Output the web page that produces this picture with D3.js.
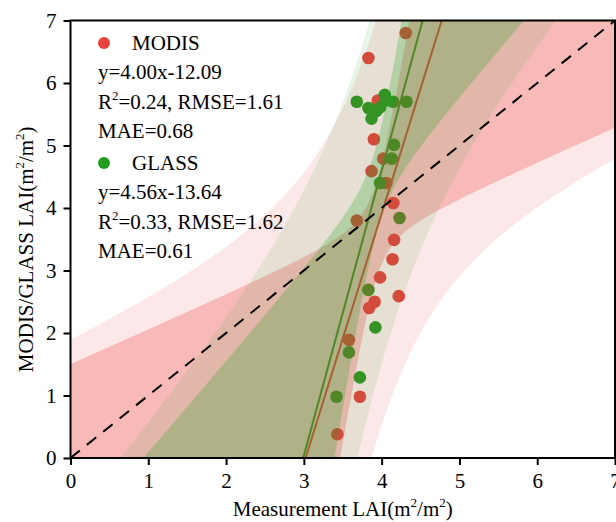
<!DOCTYPE html>
<html>
<head>
<meta charset="utf-8">
<script src="https://cdn.jsdelivr.net/npm/d3@7"></script>
<style>
  body { margin: 0; background: #fff; }
  text { font-family: "Liberation Serif", "Times New Roman", serif; fill: #000; }
</style>
</head>
<body>
<div id="chart"></div>
<script>
// scatter of measured LAI vs MODIS / GLASS LAI, with 95% confidence + prediction bands

const modisX = [4.31, 3.83, 3.95, 3.90, 4.02, 3.87, 4.06, 4.15, 3.68, 4.16, 4.14, 3.98, 3.91, 3.84, 4.22, 3.58, 3.72, 3.43];
const modisY = [6.80, 6.40, 5.72, 5.10, 4.79, 4.59, 4.40, 4.08, 3.80, 3.49, 3.18, 2.89, 2.50, 2.40, 2.59, 1.89, 0.98, 0.38];
// last two sit inside the green cluster near (4, 5.6)
const glassX = [3.68, 4.04, 3.83, 3.98, 3.87, 4.15, 4.32, 4.16, 4.13, 3.98, 4.23, 3.83, 3.92, 3.58, 3.72, 3.42, 4.06, 3.93];
const glassY = [5.70, 5.81, 5.60, 5.61, 5.43, 5.70, 5.70, 5.01, 4.79, 4.40, 3.84, 2.69, 2.09, 1.69, 1.29, 0.98, 5.72, 5.55];

// fitted lines as printed on the figure: [intercept, slope]
const modisFit = [-12.09, 4.00];
const glassFit = [-13.64, 4.56];

const xTicks = [0, 1, 2, 3, 4, 5, 6, 7];
const yTicks = [0, 1, 2, 3, 4, 5, 6, 7];

const modisStats = ["y=4.00x-12.09", ["R", "2", "=0.24, RMSE=1.61"], "MAE=0.68"];
const glassStats = ["y=4.56x-13.64", ["R", "2", "=0.33, RMSE=1.62"], "MAE=0.61"];

const red = "rgb(232,67,63)";
const green = "rgb(31,158,31)";

const W = 616, H = 522;
const margin = {top: 20.5, right: 1, bottom: 64, left: 70.5};

const svg = d3.select("#chart").append("svg")
    .attr("width", W)
    .attr("height", H);

const x = d3.scaleLinear().domain([0, 7]).range([margin.left, W - margin.right]);
const y = d3.scaleLinear().domain([0, 7]).range([H - margin.bottom, margin.top]);

svg.append("clipPath").attr("id", "plotclip")
  .append("rect")
    .attr("x", x(0)).attr("y", y(7))
    .attr("width", x(7) - x(0)).attr("height", y(0) - y(7));

const plot = svg.append("g").attr("clip-path", "url(#plotclip)");

// t quantile (0.975) by Cornish-Fisher expansion
function tQuant(df) {
    const z = 1.959964;
    const z3 = z ** 3, z5 = z ** 5, z7 = z ** 7;
    return z + (z3 + z) / (4 * df)
        + (5 * z5 + 16 * z3 + 3 * z) / (96 * df ** 2)
        + (3 * z7 + 19 * z5 + 17 * z3 - 15 * z) / (384 * df ** 3);
}

// band widths from the points, around the printed line
function bandStats(xs, ys, fit) {
    const n = xs.length;
    const xm = d3.mean(xs);
    const sxx = d3.sum(xs, v => (v - xm) ** 2);
    const sse = d3.sum(xs, (v, i) => (ys[i] - fit[0] - fit[1] * v) ** 2);
    const s = Math.sqrt(sse / (n - 2));
    return {n, xm, sxx, a: fit[0], b: fit[1], ts: tQuant(n - 2) * s};
}

function bandData(r, pred) {
    return d3.range(0, 7.001, 0.02).map(v => {
        const h = r.ts * Math.sqrt((pred ? 1 : 0) + 1 / r.n + (v - r.xm) ** 2 / r.sxx);
        const f = r.a + r.b * v;
        return {x: v, lo: f - h, hi: f + h};
    });
}

const area = d3.area()
    .x(d => x(d.x))
    .y0(d => y(Math.max(-20, d.lo)))
    .y1(d => y(Math.min(27, d.hi)));

const rm = bandStats(modisX, modisY, modisFit);
const rg = bandStats(glassX, glassY, glassFit);

// points first, the bands are painted over them
plot.selectAll()
    .data(d3.zip(modisX, modisY))
    .enter()
    .append("circle")
    .attr("cx", d => x(d[0]))
    .attr("cy", d => y(d[1]))
    .attr("r", 6.3)
    .attr("fill", red);

plot.selectAll()
    .data(d3.zip(glassX, glassY))
    .enter()
    .append("circle")
    .attr("cx", d => x(d[0]))
    .attr("cy", d => y(d[1]))
    .attr("r", 6.3)
    .attr("fill", green);

// fit lines
[[rm, red], [rg, green]].forEach(([r, c]) => {
    plot.append("line")
        .attr("x1", x(0)).attr("y1", y(r.a))
        .attr("x2", x(7)).attr("y2", y(r.a + 7 * r.b))
        .attr("stroke", c)
        .attr("stroke-width", 2);
});

// bands: prediction then confidence, MODIS then GLASS
plot.append("path").datum(bandData(rm, true)).attr("d", area).attr("fill", red).attr("fill-opacity", 0.12);
plot.append("path").datum(bandData(rm, false)).attr("d", area).attr("fill", red).attr("fill-opacity", 0.28);
plot.append("path").datum(bandData(rg, true)).attr("d", area).attr("fill", green).attr("fill-opacity", 0.1);
plot.append("path").datum(bandData(rg, false)).attr("d", area).attr("fill", green).attr("fill-opacity", 0.25);

// 1:1 line
plot.append("line")
    .attr("x1", x(0)).attr("y1", y(0))
    .attr("x2", x(7)).attr("y2", y(7))
    .attr("stroke", "#000")
    .attr("stroke-width", 2)
    .attr("stroke-dasharray", "12,9");

// axes
const xAxis = svg.append("g")
    .attr("transform", "translate(0," + y(0) + ")")
    .call(d3.axisBottom(x).tickValues(xTicks).tickFormat(d3.format("d")).tickSize(7).tickSizeOuter(0).tickPadding(8));
const yAxis = svg.append("g")
    .attr("transform", "translate(" + x(0) + ",0)")
    .call(d3.axisLeft(y).tickValues(yTicks).tickFormat(d3.format("d")).tickSize(7).tickSizeOuter(0).tickPadding(7));

[xAxis, yAxis].forEach(g => {
    g.select(".domain").remove();
    g.selectAll(".tick line").attr("stroke", "#000").attr("stroke-width", 2);
    g.selectAll(".tick text").attr("font-size", 21).attr("font-family", "Liberation Serif, Times New Roman, serif");
});

svg.append("rect")
    .attr("x", x(0)).attr("y", y(7))
    .attr("width", x(7) - x(0)).attr("height", y(0) - y(7))
    .attr("fill", "none")
    .attr("stroke", "#000")
    .attr("stroke-width", 2);

// axis titles with superscripts
function unitTitle(sel, lead) {
    sel.append("tspan").text(lead + "LAI(m");
    sel.append("tspan").text("2").attr("font-size", 13).attr("dy", -9);
    sel.append("tspan").text("/m").attr("dy", 9);
    sel.append("tspan").text("2").attr("font-size", 13).attr("dy", -9);
    sel.append("tspan").text(")").attr("dy", 9);
}

svg.append("text")
    .attr("x", (x(0) + x(7)) / 2)
    .attr("y", 516)
    .attr("text-anchor", "middle")
    .attr("font-size", 21)
    .call(unitTitle, "Measurement ");

svg.append("text")
    .attr("transform", "translate(33," + ((y(0) + y(7)) / 2 + 10) + ") rotate(-90)")
    .attr("text-anchor", "middle")
    .attr("font-size", 21)
    .call(unitTitle, "MODIS/GLASS ");

// legend block
function legendBlock(name, color, stats, top) {
    svg.append("circle")
        .attr("cx", 104).attr("cy", top - 7)
        .attr("r", 6)
        .attr("fill", color);
    svg.append("text")
        .attr("x", 132).attr("y", top)
        .attr("font-size", 21)
        .text(name);
    stats.forEach((s, i) => {
        const t = svg.append("text")
            .attr("x", 98).attr("y", top + 29 + i * 29.5)
            .attr("font-size", 21);
        if (typeof s === "string") {
            t.text(s);
        } else {
            t.append("tspan").text(s[0]);
            t.append("tspan").text(s[1]).attr("font-size", 13).attr("dy", -9);
            t.append("tspan").text(s[2]).attr("dy", 9);
        }
    });
}

legendBlock("MODIS", red, modisStats, 50);
legendBlock("GLASS", green, glassStats, 170);
</script>
</body>
</html>
